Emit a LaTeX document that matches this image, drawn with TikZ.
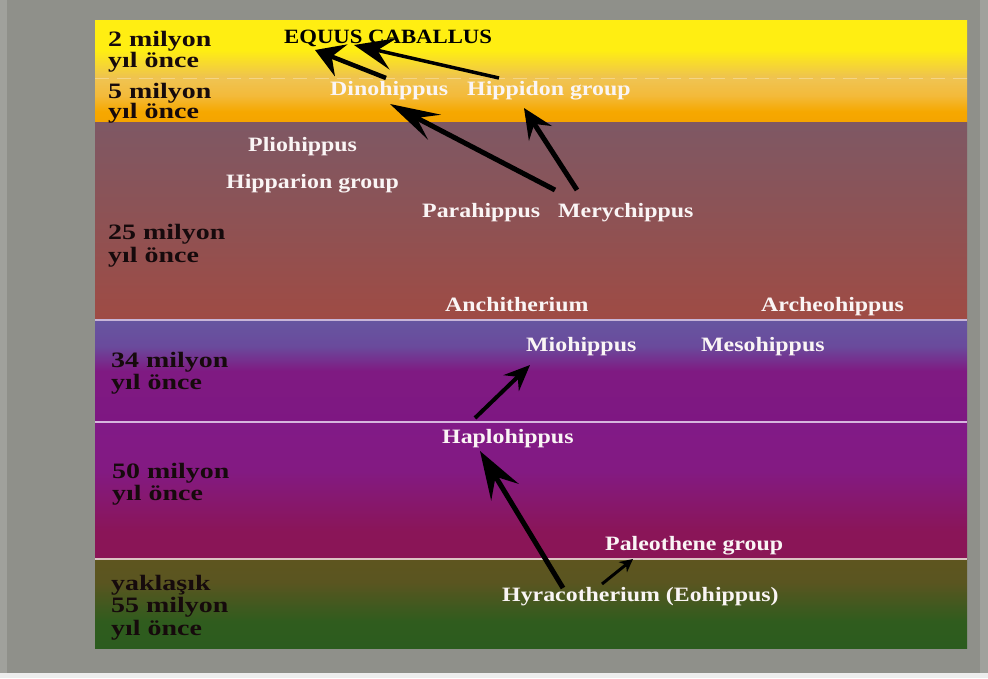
\documentclass[tikz,border=0pt]{standalone}
\usepackage{fontspec}
\setmainfont{Liberation Serif}
\newfontfamily\erafont{Liberation Serif}[FakeStretch=1.27]
\newfontfamily\spfont{Liberation Serif}[FakeStretch=1.17]
\newfontfamily\eqfont{Liberation Serif}[FakeStretch=1.12]
\usetikzlibrary{arrows.meta}
\definecolor{bggray}{HTML}{8F908A}
\definecolor{edgegray}{HTML}{A0A19C}
\definecolor{bottomstrip}{HTML}{EDEDED}
\definecolor{eratext}{HTML}{160A0C}
\definecolor{sptext}{HTML}{FAF5F5}
\definecolor{sepa}{HTML}{C7B5D8}
\definecolor{sepb}{HTML}{D6B6DE}
\definecolor{sepc}{HTML}{DCC4C4}
% band colours
\definecolor{yA}{HTML}{EEC150}
\definecolor{yB}{HTML}{FFEE12}
\definecolor{oA}{HTML}{F5A400}
\definecolor{oB}{HTML}{F6A800}
\definecolor{oC}{HTML}{F3BA3A}
\definecolor{oD}{HTML}{F0C452}
\definecolor{bA}{HTML}{9F4B44}
\definecolor{bB}{HTML}{8E5254}
\definecolor{bC}{HTML}{7E5864}
\definecolor{pA}{HTML}{7E1782}
\definecolor{pB}{HTML}{7F1A82}
\definecolor{pC}{HTML}{6A4A9C}
\definecolor{pD}{HTML}{6656A0}
\definecolor{qA}{HTML}{8A1556}
\definecolor{qB}{HTML}{8A1558}
\definecolor{qC}{HTML}{831A82}
\definecolor{qD}{HTML}{811A87}
\definecolor{gA}{HTML}{2B5C1E}
\definecolor{gB}{HTML}{305C1E}
\definecolor{gC}{HTML}{5A5520}
\definecolor{gD}{HTML}{5E551F}
\pgfdeclareverticalshading{yelband}{100bp}{color(0bp)=(yA); color(25bp)=(yA); color(49bp)=(yB); color(75bp)=(yB); color(100bp)=(yB)}
\pgfdeclareverticalshading{oraband}{100bp}{color(0bp)=(oA); color(25bp)=(oA); color(37bp)=(oB); color(55bp)=(oC); color(75bp)=(oD); color(100bp)=(oD)}
\pgfdeclareverticalshading{broband}{100bp}{color(0bp)=(bA); color(25bp)=(bA); color(50bp)=(bB); color(75bp)=(bC); color(100bp)=(bC)}
\pgfdeclareverticalshading{puroneband}{100bp}{color(0bp)=(pA); color(25bp)=(pA); color(50bp)=(pB); color(62bp)=(pC); color(75bp)=(pD); color(100bp)=(pD)}
\pgfdeclareverticalshading{purtwoband}{100bp}{color(0bp)=(qA); color(25bp)=(qA); color(35bp)=(qB); color(57bp)=(qC); color(75bp)=(qD); color(100bp)=(qD)}
\pgfdeclareverticalshading{grnband}{100bp}{color(0bp)=(gA); color(25bp)=(gA); color(40bp)=(gB); color(62bp)=(gC); color(75bp)=(gD); color(100bp)=(gD)}
\tikzset{
  era/.style={font=\erafont\bfseries\fontsize{22}{24}\selectfont, text=eratext, anchor=base west, inner sep=0pt},
  sp/.style={font=\spfont\bfseries\fontsize{20.4}{24}\selectfont, text=sptext, anchor=base west, inner sep=0pt},
  eq/.style={font=\eqfont\bfseries\fontsize{20.3}{24}\selectfont, text=black, anchor=base west, inner sep=0pt},
  sepline/.style={line width=2pt},
}
\begin{document}
\begin{tikzpicture}[x=1pt,y=-1pt]
\useasboundingbox (0,0) rectangle (988,678);
% background
\fill[edgegray] (0,0) rectangle (988,678);
\fill[bggray] (7,0) rectangle (980,673);
\fill[bottomstrip] (0,673) rectangle (988,678);
% bands
\shade[shading=yelband] (95,20) rectangle (967,78);
\shade[shading=oraband] (95,78) rectangle (967,122);
\shade[shading=broband] (95,122) rectangle (967,320);
\shade[shading=puroneband] (95,320) rectangle (967,422);
\shade[shading=purtwoband] (95,422) rectangle (967,559);
\shade[shading=grnband] (95,559) rectangle (967,648);
% separators
\draw[white, opacity=0.3, line width=0.8pt, dash pattern=on 14pt off 8pt] (95,78) -- (967,78);
\draw[sepline, sepa] (95,320) -- (967,320);
\draw[sepline, sepb] (95,422) -- (967,422);
\draw[sepline, sepc] (95,559) -- (967,559);
% era labels
\node[era] (e2a) at (108,46) {2 milyon};
\node[era] (e2b) at (108,67) {yıl önce};
\node[era] (e5a) at (108,98) {5 milyon};
\node[era] (e5b) at (108,118) {yıl önce};
\node[era] (e25a) at (108,239) {25 milyon};
\node[era] (e25b) at (108,262) {yıl önce};
\node[era] (e34a) at (111,367) {34 milyon};
\node[era] (e34b) at (111,389) {yıl önce};
\node[era] (e50a) at (112,478) {50 milyon};
\node[era] (e50b) at (112,500) {yıl önce};
\node[era] (e55a) at (111,590) {yaklaşık};
\node[era] (e55b) at (111,612) {55 milyon};
\node[era] (e55c) at (111,635) {yıl önce};
% species
\node[eq] (equus) at (284,43) {EQUUS CABALLUS};
\node[sp] (dino) at (330,95) {Dinohippus};
\node[sp] (hippi) at (467,95) {Hippidon group};
\node[sp] (plio) at (248,151) {Pliohippus};
\node[sp] (hippa) at (226,188) {Hipparion group};
\node[sp] (para) at (422,217) {Parahippus};
\node[sp] (mery) at (558,217) {Merychippus};
\node[sp] (anchi) at (445,311) {Anchitherium};
\node[sp] (arche) at (761,311) {Archeohippus};
\node[sp] (mio) at (526,351) {Miohippus};
\node[sp] (meso) at (701,351) {Mesohippus};
\node[sp] (haplo) at (442,443) {Haplohippus};
\node[sp] (paleo) at (605,550) {Paleothene group};
\node[sp] (hyra) at (502,601) {Hyracotherium (Eohippus)};
% arrow end points
\coordinate (meryL) at (555,190);
\coordinate (meryR) at (577,190);
\coordinate (dinoIn) at (390,104);
\coordinate (hippiIn) at (524,108);
\coordinate (dinoOut) at (386,78);
\coordinate (hippiOut) at (499,78);
\coordinate (equusInA) at (315,50);
\coordinate (equusInB) at (354,45);
\coordinate (haploOut) at (475,418);
\coordinate (mioIn) at (530,365);
\coordinate (hyraL) at (563,588);
\coordinate (hyraR) at (602,584);
\coordinate (haploIn) at (480,451);
\coordinate (paleoIn) at (633,559);
% arrows
\draw[line width=5pt, -{Stealth[length=50pt,width=28pt,inset=20pt]}] (meryL) -- (dinoIn);
\draw[line width=5pt, -{Stealth[length=30pt,width=27pt,inset=11pt]}] (meryR) -- (hippiIn);
\draw[line width=4.5pt, -{Stealth[length=28pt,width=34pt,inset=10pt]}] (dinoOut) -- (equusInA);
\draw[line width=3.5pt, -{Stealth[length=40pt,width=32pt,inset=16pt]}] (hippiOut) -- (equusInB);
\draw[line width=4pt, -{Stealth[length=26pt,width=22pt,inset=9pt]}] (haploOut) -- (mioIn);
\draw[line width=5pt, -{Stealth[length=48pt,width=32pt,inset=18pt]}] (hyraL) -- (haploIn);
\draw[line width=3pt, -{Stealth[length=13pt,width=13pt,inset=4pt]}] (hyraR) -- (paleoIn);
\end{tikzpicture}
\end{document}
